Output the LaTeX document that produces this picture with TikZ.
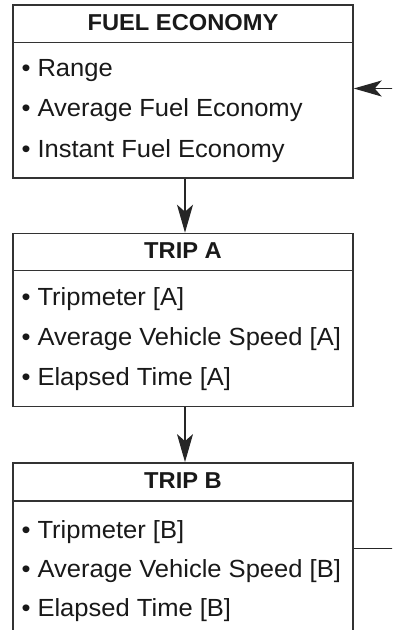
\documentclass[tikz,border=0pt]{standalone}
\usepackage{fontspec}
\setmainfont{Liberation Sans}[FakeStretch=1.03]
\usepackage{tikz}
\usetikzlibrary{arrows.meta, positioning}
\tikzstyle{panel} = [draw=black!80, line width=1.4pt, 
minimum width=340pt, 
minimum height=173pt, inner sep=0pt]
\tikzstyle{title} = [font=\bfseries\fontsize{23}{23}\selectfont, anchor=base, inner sep=0pt, text=black!90]
\tikzstyle{item} = [font=\fontsize{24.8}{28}\selectfont, anchor=base west, inner sep=0pt, text=black!90]
\tikzstyle{arrow} = [line width=1.3pt, draw=black!85, -{Stealth[length=28pt, width=16pt, inset=7pt]}]

\begin{document}
\begin{tikzpicture}[x=1pt, y=-1pt]
        \useasboundingbox (0,0) rectangle (392,630);
        \clip (0,0) rectangle (392,630);

        % Cuadros
        \node[panel] (fuel) at (183,91.5) {};
        \node[panel, below=54pt of fuel] (tripa) {};
        \node[panel, below=55pt of tripa] (tripb) {};

        % Titulos
        \node[title] (fuelT) at ([yshift=-26pt]fuel.north) {FUEL ECONOMY};
        \node[title] (tripaT) at ([yshift=-26pt]tripa.north) {TRIP A};
        \node[title] (tripbT) at ([yshift=-26pt]tripb.north) {TRIP B};
        \draw[line width=1.4pt, black!80] ([yshift=-38pt]fuel.north west) -- ([yshift=-38pt]fuel.north east);
        \draw[line width=1.4pt, black!80] ([yshift=-38pt]tripa.north west) -- ([yshift=-38pt]tripa.north east);
        \draw[line width=1.4pt, black!80] ([yshift=-39pt]tripb.north west) -- ([yshift=-39pt]tripb.north east);

        % Lineas de cada cuadro
        \foreach \t [count=\i] in {Range, Average Fuel Economy, Instant Fuel Economy}
            \node[item] (fuel\i) at ([xshift=9pt, yshift={-72pt-40.5pt*(\i-1)}]fuel.north west) {• \t};
        \foreach \t [count=\i] in {{Tripmeter [A]}, {Average Vehicle Speed [A]}, {Elapsed Time [A]}}
            \node[item] (tripa\i) at ([xshift=9pt, yshift={-73pt-40pt*(\i-1)}]tripa.north west) {• \t};
        \foreach \t [count=\i] in {{Tripmeter [B]}, {Average Vehicle Speed [B]}, {Elapsed Time [B]}}
            \node[item] (tripb\i) at ([xshift=9pt, yshift={-76pt-39pt*(\i-1)}]tripb.north west) {• \t};

        % Flechas
        \draw[arrow] ([xshift=2pt]fuel.south) -- ([xshift=2pt]tripa.north);
        \draw[arrow] ([xshift=2pt]tripa.south) -- ([xshift=2pt]tripb.north);
        \draw[arrow] ([yshift=1pt]tripb.east) -- ++(60pt,0) |- ([yshift=3pt]fuel.east);

    \end{tikzpicture}
\end{document}
